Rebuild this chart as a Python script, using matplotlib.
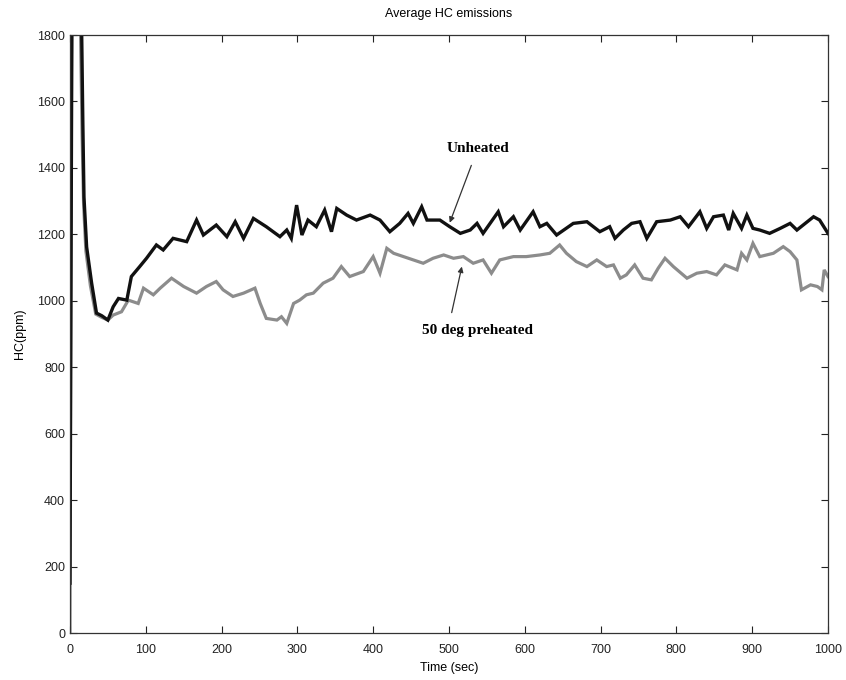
import numpy as np
import matplotlib
matplotlib.use("Agg")
import matplotlib.pyplot as plt

# unheated engine (black)
unheated_t = [0, 2, 4, 7, 10, 13, 15.5, 17, 18.5, 22, 28.6, 35, 42,
              50, 57, 64, 75, 81, 92, 101, 114, 123, 136, 154, 167, 176, 193,
              207, 218, 229, 242, 259, 277, 286, 292, 299, 306, 314, 325, 336,
              345, 352, 365, 378, 396, 409, 422, 435, 446, 453, 464, 471, 488,
              501, 515, 528, 537, 545, 565, 572, 585, 594, 611, 620, 629, 642,
              664, 682, 699, 712, 719, 730, 741, 752, 761, 774, 792, 805, 816,
              831, 840, 849, 862, 869, 875, 886, 893, 901, 910, 923, 937, 950,
              959, 981, 989, 1000]
unheated_hc = [150, 1500, 2600, 2800, 2500, 2100, 1800, 1535, 1312, 1162, 1053, 963, 955,
               942, 982, 1007, 1002, 1073, 1103, 1128, 1168, 1153, 1188, 1178, 1243, 1198, 1228,
               1193, 1238, 1188, 1248, 1223, 1193, 1213, 1188, 1288, 1198, 1243, 1223, 1273,
               1208, 1278, 1258, 1243, 1258, 1243, 1208, 1233, 1263, 1233, 1283, 1243, 1243,
               1223, 1203, 1213, 1233, 1203, 1268, 1223, 1253, 1213, 1268, 1223, 1233, 1198,
               1233, 1238, 1208, 1223, 1188, 1213, 1233, 1238, 1188, 1238, 1243, 1253, 1223,
               1268, 1218, 1253, 1258, 1213, 1263, 1218, 1258, 1218, 1213, 1203, 1218, 1233,
               1213, 1253, 1243, 1203]

# 50 deg preheated (grey)
preheated_t = [0, 1.5, 3, 6, 9, 12, 14, 16, 18, 21, 27, 34, 42,
               50, 57, 68, 77, 90, 97, 110, 119, 134, 150, 167, 180, 193, 202,
               215, 229, 244, 251, 259, 273, 279, 286, 295, 303, 312, 321, 334,
               347, 358, 369, 387, 400, 409, 418, 427, 440, 453, 466, 479, 493,
               506, 519, 532, 545, 556, 567, 585, 602, 620, 633, 646, 655, 668,
               682, 695, 708, 717, 726, 734, 745, 756, 767, 776, 785, 796, 814,
               827, 840, 853, 864, 880, 886, 893, 901, 910, 928, 941, 950, 959,
               965, 977, 986, 992, 995, 1000]
preheated_hc = [0, 1400, 2500, 2800, 2500, 2000, 1800, 1500, 1290, 1150, 1045, 960, 950,
                942, 957, 967, 1002, 992, 1038, 1018, 1038, 1068, 1043, 1023, 1043, 1058, 1033,
                1013, 1023, 1038, 992, 947, 942, 952, 932, 992, 1002, 1018, 1023, 1053,
                1068, 1103, 1073, 1088, 1133, 1083, 1158, 1143, 1133, 1123, 1113, 1128, 1138,
                1128, 1133, 1113, 1123, 1083, 1123, 1133, 1133, 1138, 1143, 1168, 1143, 1118,
                1103, 1123, 1103, 1108, 1068, 1078, 1108, 1068, 1063, 1098, 1128, 1103, 1068,
                1083, 1088, 1078, 1108, 1093, 1143, 1123, 1173, 1133, 1143, 1163, 1148, 1123,
                1033, 1048, 1043, 1033, 1093, 1073]

x_ticks = np.arange(0, 1001, 100)
y_ticks = np.arange(0, 1801, 200)

fig = plt.figure(figsize=(8.46, 6.8), dpi=100)
ax = fig.add_axes([0.0827, 0.0691, 0.8960, 0.8794])

ax.plot(preheated_t, preheated_hc, color="#8c8c8c", linewidth=2.3, solid_joinstyle="miter")
ax.plot(unheated_t, unheated_hc, color="#111111", linewidth=2.4, solid_joinstyle="miter")

ax.set_xlim(0, 1000)
ax.set_ylim(0, 1800)
ax.set_xticks(x_ticks)
ax.set_yticks(y_ticks)
ax.tick_params(direction="in", length=5, width=0.8, top=True, right=True,
               labelsize=9, colors="#222222")
ax.tick_params(axis="x", pad=8)
for lab in ax.get_xticklabels() + ax.get_yticklabels():
    lab.set_family("Liberation Sans")
for sp in ax.spines.values():
    sp.set_linewidth(0.9)
    sp.set_color("#333333")

ax.set_title("Average HC emissions", fontsize=9, family="Liberation Sans", pad=13)
ax.set_xlabel("Time (sec)", fontsize=9, family="Liberation Sans", labelpad=4)
ax.set_ylabel("HC(ppm)", fontsize=9, family="Liberation Sans", labelpad=8)

ax.annotate("Unheated", xy=(501, 1235), xytext=(538, 1459),
            ha="center", va="center", fontsize=11, family="Liberation Serif", weight="bold",
            arrowprops=dict(arrowstyle="-|>", color="#333333", lw=0.9,
                            shrinkA=6, shrinkB=0, mutation_scale=8))
ax.annotate("50 deg preheated", xy=(517, 1103), xytext=(537, 912),
            ha="center", va="center", fontsize=11, family="Liberation Serif", weight="bold",
            arrowprops=dict(arrowstyle="-|>", color="#333333", lw=0.9,
                            shrinkA=6, shrinkB=0, mutation_scale=8,
                            relpos=(0.25, 1.0)))

fig.savefig("out.png", dpi=100)
